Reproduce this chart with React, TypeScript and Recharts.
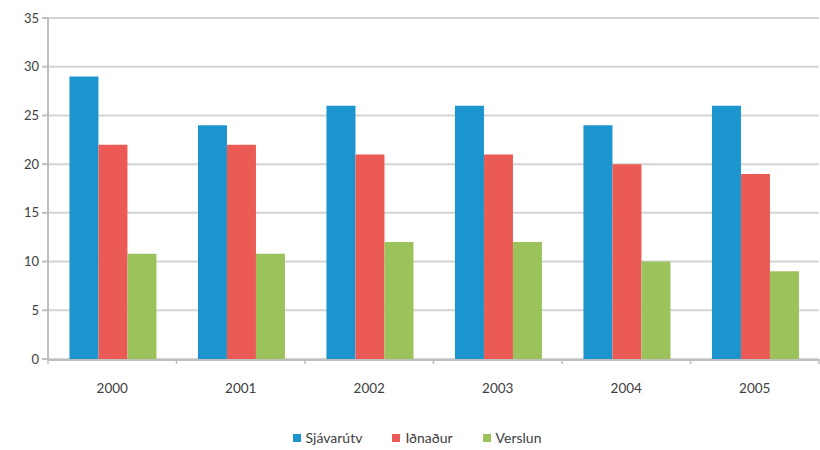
import React from 'react';
import { BarChart, Bar, XAxis, YAxis, CartesianGrid, Legend } from 'recharts';

const years = ['2000', '2001', '2002', '2003', '2004', '2005'];
const sjavarutv = [29, 24, 26, 26, 24, 26];
const idnadur = [22, 22, 21, 21, 20, 19];
const verslun = [10.8, 10.8, 12, 12, 10, 9];
const yTicks = [0, 5, 10, 15, 20, 25, 30, 35];
const boundaryTicks = [0, 1, 2, 3, 4, 5, 6];

const seriesNames = ['Sjávarútv', 'Iðnaður', 'Verslun'];
const colors = ['#1C95CF', '#EC5A56', '#9CC35B'];

const data = years.map((year, i) => ({
  year,
  idx: i + 0.5,
  s: sjavarutv[i],
  i: idnadur[i],
  v: verslun[i],
}));

const FONT = 'Lato, "Open Sans", sans-serif';

const LegendContent = () => (
  <div
    style={{
      display: 'flex',
      justifyContent: 'center',
      gap: 30,
      fontFamily: FONT,
      fontSize: 14,
      color: '#404040',
      paddingLeft: 14,
    }}
  >
    {seriesNames.map((name, k) => (
      <div key={name} style={{ display: 'flex', alignItems: 'center' }}>
        <span
          style={{
            display: 'inline-block',
            width: 8,
            height: 8,
            background: colors[k],
            marginRight: 5,
          }}
        />
        <span>{name}</span>
      </div>
    ))}
  </div>
);

const EmptyTick = () => <g />;

// axis 0: category boundary tick marks right under the baseline
// axis 1: year labels, used by the bars
export default function App() {
  return (
    <div style={{ position: 'absolute', left: 0, top: 0, width: 820, height: 450, background: '#fff' }}>
      <BarChart
        width={820}
        height={450}
        data={data}
        margin={{ top: 18, right: 1, left: 0, bottom: 50 }}
        barCategoryGap="16.7%"
        barGap={0}
      >
        <CartesianGrid vertical={false} stroke="#D4D4D4" strokeWidth={2} xAxisId={1} />
        <XAxis
          xAxisId={0}
          type="number"
          dataKey="idx"
          domain={[0, 6]}
          ticks={boundaryTicks}
          interval={0}
          tick={EmptyTick}
          tickSize={5}
          axisLine={false}
          tickLine={{ stroke: '#BFBFBF', strokeWidth: 1.5 }}
          height={1}
        />
        <XAxis
          xAxisId={1}
          dataKey="year"
          height={40}
          tickSize={0}
          tickMargin={23}
          axisLine={{ stroke: '#BFBFBF', strokeWidth: 2 }}
          tick={{ fill: '#404040', fontSize: 13.5, fontFamily: FONT }}
        />
        <YAxis
          width={48}
          domain={[0, 35]}
          ticks={yTicks}
          interval={0}
          tickSize={6}
          tickMargin={3}
          axisLine={{ stroke: '#BFBFBF', strokeWidth: 2 }}
          tickLine={{ stroke: '#BFBFBF', strokeWidth: 2 }}
          tick={{ fill: '#404040', fontSize: 13, fontFamily: FONT }}
        />
        <Legend
          layout="horizontal"
          verticalAlign="middle"
          align="center"
          content={<LegendContent />}
          wrapperStyle={{ top: 429, left: 0, width: 820 }}
        />
        <Bar xAxisId={1} dataKey="s" name={seriesNames[0]} fill={colors[0]} isAnimationActive={false} />
        <Bar xAxisId={1} dataKey="i" name={seriesNames[1]} fill={colors[1]} isAnimationActive={false} />
        <Bar xAxisId={1} dataKey="v" name={seriesNames[2]} fill={colors[2]} isAnimationActive={false} />
      </BarChart>
    </div>
  );
}
